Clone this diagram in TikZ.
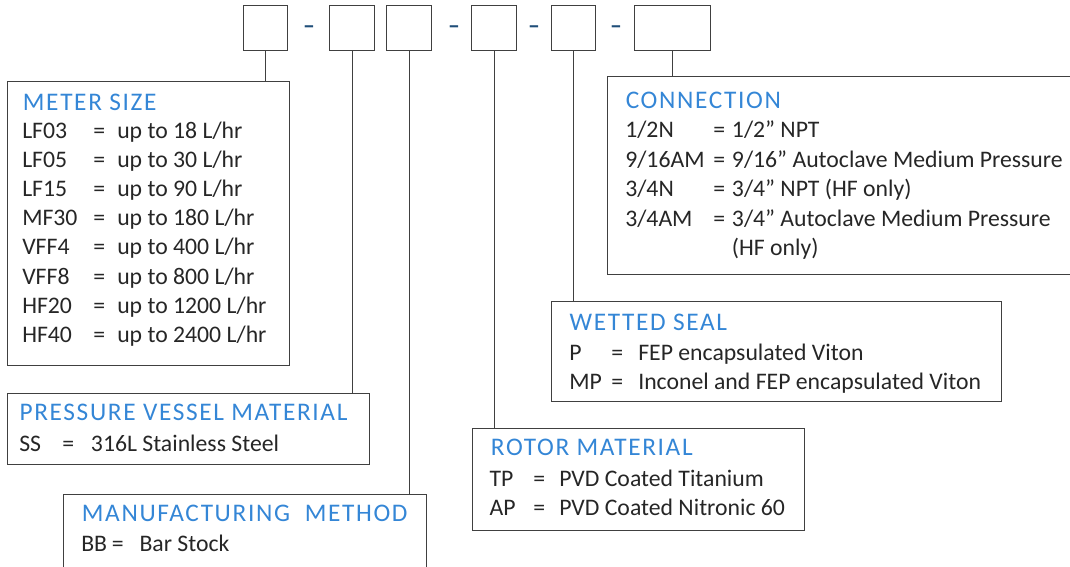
\documentclass[tikz,border=0pt]{standalone}
\usepackage{fontspec}
\setmainfont{Carlito}
\newfontfamily\titlefont[LetterSpace=6.5]{Carlito}
\usetikzlibrary{positioning}

\definecolor{boxline}{RGB}{64,64,64}
\definecolor{titleblue}{RGB}{52,134,214}
\definecolor{dashblue}{RGB}{31,78,121}
\definecolor{bodytext}{RGB}{38,38,38}

\tikzset{
  codebox/.style={draw=boxline, line width=1pt, anchor=north west, inner sep=0pt, minimum height=33.75pt},
  infobox/.style={draw=boxline, line width=1pt, anchor=north west, inner sep=0pt},
  boxtitle/.style={anchor=base west, inner sep=0pt, text=titleblue, font=\titlefont\fontsize{19}{22}\selectfont},
  entry/.style={anchor=base west, inner sep=0pt, text=bodytext, font=\fontsize{17.8}{21}\selectfont},
  sep/.style={anchor=base, inner sep=0pt, text=dashblue, font=\bfseries\fontsize{17.8}{21}\selectfont},
  link/.style={draw=boxline, line width=1pt}
}

\begin{document}
\begin{tikzpicture}[x=0.75pt,y=0.75pt,yscale=-1,xscale=1]
\useasboundingbox (0,0) rectangle (1070,567);
\clip (0,0) rectangle (1070,567);

%Shape: Rectangle - part number boxes
\node[codebox, minimum width=33pt] (c1) at (243,5) {};
\node[codebox, minimum width=33.75pt] (c2) at (329,5) {};
\node[codebox, minimum width=33.75pt] (c3) at (386,5) {};
\node[codebox, minimum width=33.75pt] (c4) at (471,5) {};
\node[codebox, minimum width=33pt] (c5) at (551,5) {};
\node[codebox, minimum width=57pt] (c6) at (634,5) {};

% Text Node - separators
\node[sep] (s1) at (309,33.5) {–};
\node[sep] (s2) at (454,33.5) {–};
\node[sep] (s3) at (534,33.5) {–};
\node[sep] (s4) at (616,33.5) {–};

%Shape: Rectangle - legend boxes
\node[infobox, minimum width=211.5pt, minimum height=213pt] (meter) at (7,81) {};
\node[infobox, minimum width=271.5pt, minimum height=53.25pt] (vessel) at (7,393) {};
\node[infobox, minimum width=272.25pt, minimum height=67.5pt] (method) at (63,494) {};
\node[infobox, minimum width=360pt, minimum height=148.5pt] (conn) at (607,76) {};
\node[infobox, minimum width=337.5pt, minimum height=75pt] (seal) at (551,301) {};
\node[infobox, minimum width=249pt, minimum height=76.5pt] (rotor) at (472,428) {};

%Straight Lines
\draw[link] (c1.south) -- (c1.south |- meter.north);
\draw[link] (c2.south) -- (c2.south |- vessel.north);
\draw[link] (c3.south) -- (c3.south |- method.north);
\draw[link] (c4.south) -- (c4.south |- rotor.north);
\draw[link] (c5.south) -- (c5.south |- seal.north);
\draw[link] (c6.south) -- (c6.south |- conn.north);

% Text Node - meter size
\node[boxtitle] (meter-t) at (22.7,110) {METER SIZE};
\foreach \c/\v [count=\i] in {LF03/{up to 18 L/hr}, LF05/{up to 30 L/hr}, LF15/{up to 90 L/hr},
    MF30/{up to 180 L/hr}, VFF4/{up to 400 L/hr}, VFF8/{up to 800 L/hr},
    HF20/{up to 1200 L/hr}, HF40/{up to 2400 L/hr}} {
  \node[entry] (meter-c\i) at (22,{138+29.2*(\i-1)}) {\c};
  \node[entry] (meter-e\i) at (93,{138+29.2*(\i-1)}) {=};
  \node[entry] (meter-v\i) at (117,{138+29.2*(\i-1)}) {\v};
}

% Text Node - pressure vessel material
\node[boxtitle] (vessel-t) at (19.3,420.7) {PRESSURE VESSEL MATERIAL};
\node[entry] (vessel-c1) at (19,451) {SS};
\node[entry] (vessel-e1) at (62,451) {=};
\node[entry] (vessel-v1) at (90.7,451) {316L Stainless Steel};

% Text Node - manufacturing method
\node[boxtitle] (method-t) at (81.7,521.7) {MANUFACTURING\ \ METHOD};
\node[entry] (method-c1) at (81,551.7) {BB};
\node[entry] (method-e1) at (111.7,551.7) {=};
\node[entry] (method-v1) at (139.3,551.7) {Bar Stock};

% Text Node - connection
\node[boxtitle] (conn-t) at (625.5,108.9) {CONNECTION};
\foreach \c/\v [count=\i] in {{1/2N}/{1/2” NPT}, {9/16AM}/{9/16” Autoclave Medium Pressure},
    {3/4N}/{3/4” NPT (HF only)}, {3/4AM}/{3/4” Autoclave Medium Pressure}} {
  \node[entry] (conn-c\i) at (625,{137.6+29.5*(\i-1)}) {\c};
  \node[entry] (conn-e\i) at (713,{137.6+29.5*(\i-1)}) {=};
  \node[entry] (conn-v\i) at (731.7,{137.6+29.5*(\i-1)}) {\v};
}
\node[entry] (conn-v5) at (731.7,255.9) {(HF only)};

% Text Node - wetted seal
\node[boxtitle] (seal-t) at (569.4,330.3) {WETTED SEAL};
\node[entry] (seal-c1) at (569,360) {P};
\node[entry] (seal-e1) at (611,360) {=};
\node[entry] (seal-v1) at (638,360) {FEP encapsulated Viton};
\node[entry] (seal-c2) at (569,389.5) {MP};
\node[entry] (seal-e2) at (611,389.5) {=};
\node[entry] (seal-v2) at (638,389.5) {Inconel and FEP encapsulated Viton};

% Text Node - rotor material
\node[boxtitle] (rotor-t) at (490.7,455.7) {ROTOR MATERIAL};
\node[entry] (rotor-c1) at (489.3,486) {TP};
\node[entry] (rotor-e1) at (533,486) {=};
\node[entry] (rotor-v1) at (559,486) {PVD Coated Titanium};
\node[entry] (rotor-c2) at (489.3,515) {AP};
\node[entry] (rotor-e2) at (533,515) {=};
\node[entry] (rotor-v2) at (559,515) {PVD Coated Nitronic 60};

\end{tikzpicture}
\end{document}
